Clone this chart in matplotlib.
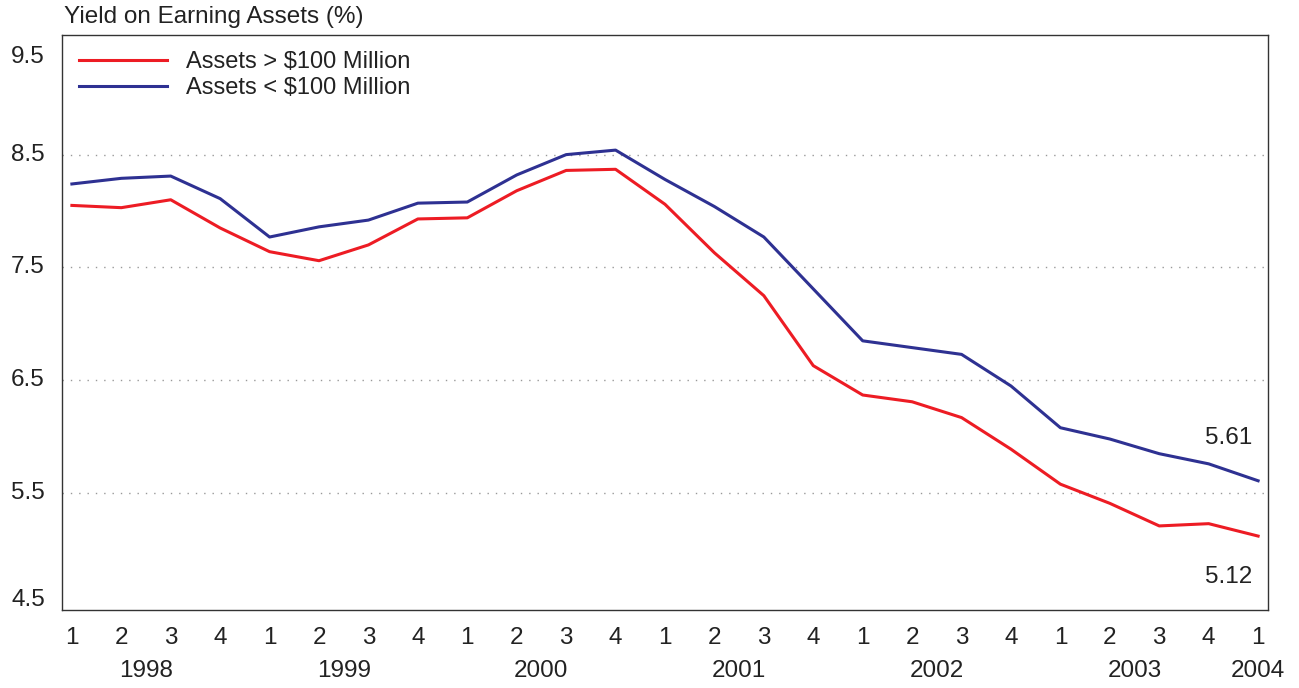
import matplotlib
matplotlib.use("Agg")
import matplotlib.pyplot as plt
from matplotlib.transforms import blended_transform_factory

plt.rcParams['font.family'] = ['Liberation Sans', 'DejaVu Sans']

quarters = ["1", "2", "3", "4"] * 6 + ["1"]
years = ["1998", "1999", "2000", "2001", "2002", "2003", "2004"]
large = [8.05, 8.03, 8.10, 7.85, 7.64, 7.56, 7.70, 7.93, 7.94, 8.18, 8.36, 8.37,
         8.06, 7.63, 7.25, 6.63, 6.37, 6.31, 6.17, 5.89, 5.58, 5.41, 5.21, 5.23, 5.12]
small = [8.24, 8.29, 8.31, 8.11, 7.77, 7.86, 7.92, 8.07, 8.08, 8.32, 8.50, 8.54,
         8.28, 8.04, 7.77, 7.31, 6.85, 6.79, 6.73, 6.45, 6.08, 5.98, 5.85, 5.76, 5.61]
ytick_vals = [9.5, 8.5, 7.5, 6.5, 5.5, 4.5]
grid_vals = [8.5, 7.5, 6.5, 5.5]

red = "#ED1C24"
blue = "#2E3192"
txt = "#222222"
fs = 17.5

fig = plt.figure(figsize=(12.99, 6.88), dpi=100)
ax = fig.add_axes([62/1299, 1-610/688, (1268-62)/1299, (610-35)/688])
x = list(range(len(large)))
ax.plot(x, large, color=red, lw=2.2, label="Assets > $100 Million", solid_joinstyle='round')
ax.plot(x, small, color=blue, lw=2.2, label="Assets < $100 Million", solid_joinstyle='round')

ax.set_xlim(-0.2, 24.2)
ax.set_ylim(4.465, 9.56)
for g in grid_vals:
    ax.axhline(g, color="#999999", lw=1.0, ls=(0, (1, 5)), zorder=0)

ax.set_xticks([])
ax.set_yticks([])
for s in ax.spines.values():
    s.set_color("#333333")
    s.set_linewidth(1.0)

# y labels (9.5 and 4.5 shifted inward as in reference)
ylab_px = {9.5: 57, 8.5: 155, 7.5: 267, 6.5: 380, 5.5: 493, 4.5: 600}
for v in ytick_vals:
    ypx = ylab_px[v]
    fig.text(45/1299, 1 - ypx/688, f"{v}", ha="right", va="center", fontsize=fs, color=txt)

# x labels
tr = blended_transform_factory(ax.transData, fig.transFigure)
for i, q in enumerate(quarters):
    ax.text(i, 1 - 638/688, q, transform=tr, ha="center", va="center", fontsize=fs, color=txt)
for k, yr in enumerate(years):
    xpos = 4*k + 1.5 if k < 6 else 24
    ax.text(xpos, 1 - 671/688, yr, transform=tr, ha="center", va="center", fontsize=fs, color=txt)

fig.text(64/1299, 1 - 17/688, "Yield on Earning Assets (%)", ha="left", va="center", fontsize=17.5, color=txt)

ax.text(23.4, small[-1] + 0.38, f"{small[-1]:.2f}", ha="center", va="center", fontsize=fs, color=txt)
ax.text(23.4, large[-1] - 0.36, f"{large[-1]:.2f}", ha="center", va="center", fontsize=fs, color=txt)

leg = ax.legend(loc="upper left", frameon=False, fontsize=17, handlelength=3.7,
                handletextpad=0.8, labelspacing=0.17, borderaxespad=0.0,
                bbox_to_anchor=(0.0066, 0.989))
for t in leg.get_texts():
    t.set_color(txt)

fig.savefig("out.png", dpi=100)
